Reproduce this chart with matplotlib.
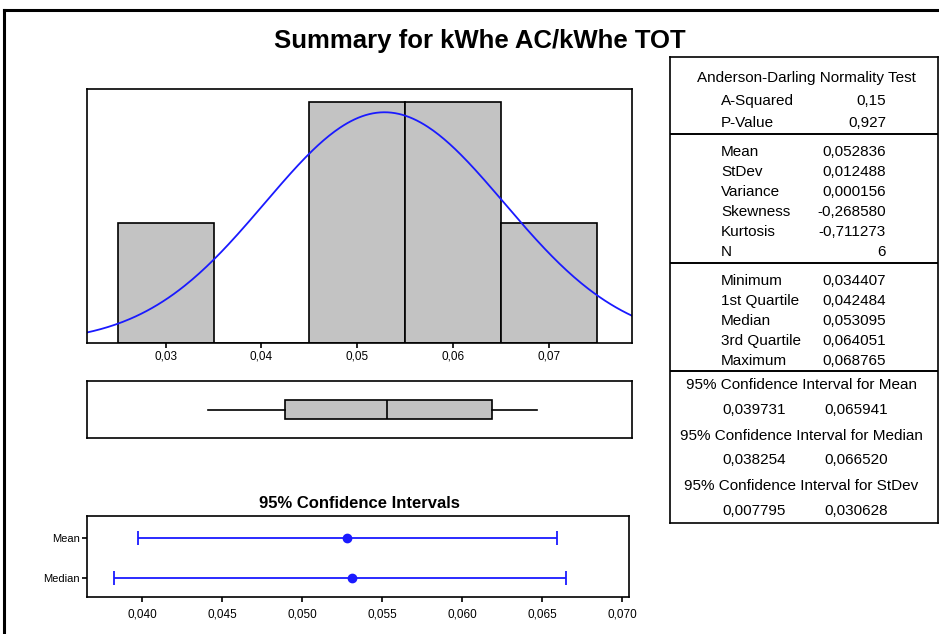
import numpy as np
import matplotlib
matplotlib.use("Agg")
from matplotlib import pyplot as plt
from matplotlib.ticker import FuncFormatter
from matplotlib.lines import Line2D

plt.rcParams['font.family'] = ['Liberation Sans', 'DejaVu Sans']

# Histogram of kWhe AC/kWhe TOT
bin_edges = [0.025, 0.035, 0.045, 0.055, 0.065, 0.075]
counts = [1, 0, 2, 2, 1]

# Descriptive statistics
mean = 0.052836
stdev = 0.012488
n = 6
minimum = 0.034407
q1 = 0.042484
median = 0.053095
q3 = 0.064051
maximum = 0.068765

# 95% confidence intervals
ci_labels = ['Mean', 'Median']
ci_centers = [mean, median]
ci_low = [0.039731, 0.038254]
ci_high = [0.065941, 0.066520]

# Summary table text
ad_rows = [('A-Squared', '0,15'), ('P-Value', '0,927')]
moment_rows = [('Mean', '0,052836'), ('StDev', '0,012488'), ('Variance', '0,000156'),
               ('Skewness', '-0,268580'), ('Kurtosis', '-0,711273'), ('N', '6')]
quantile_rows = [('Minimum', '0,034407'), ('1st Quartile', '0,042484'), ('Median', '0,053095'),
                 ('3rd Quartile', '0,064051'), ('Maximum', '0,068765')]
ci_rows = [('95% Confidence Interval for Mean', '0,039731', '0,065941'),
           ('95% Confidence Interval for Median', '0,038254', '0,066520'),
           ('95% Confidence Interval for StDev', '0,007795', '0,030628')]

W, H = 939, 634
fig = plt.figure(figsize=(W / 100, H / 100), dpi=100)


def fig_rect(x0, y0, x1, y1):
    # pixel box (top-left origin) -> figure fraction rect
    return [x0 / W, 1 - y1 / H, (x1 - x0) / W, (y1 - y0) / H]


comma = FuncFormatter(lambda v, p: ('%.2f' % v).replace('.', ','))
comma3 = FuncFormatter(lambda v, p: ('%.3f' % v).replace('.', ','))
blue = '#1a1aff'
gray = '#c3c3c3'

# outer frame (right and bottom edges are off the picture)
fig.add_artist(Line2D([4 / W, 4 / W], [0, 1 - 10 / H], color='black', lw=2.2))
fig.add_artist(Line2D([4 / W, 1], [1 - 10 / H, 1 - 10 / H], color='black', lw=2.2))

fig.text(480 / W, 1 - 41 / H, 'Summary for kWhe AC/kWhe TOT', ha='center', va='center',
         fontsize=18.5, fontweight='bold')

# histogram with fitted normal curve
ax = fig.add_axes(fig_rect(87, 89, 632, 343))
widths = np.diff(bin_edges)
ax.bar(bin_edges[:-1], counts, width=widths, align='edge', color=gray, edgecolor='black', lw=1.2)
xs = np.linspace(0.0217, 0.0787, 300)
pdf = np.exp(-0.5 * ((xs - mean) / stdev) ** 2) / (stdev * np.sqrt(2 * np.pi))
ax.plot(xs, pdf * n * widths[0], color=blue, lw=1.3)
ax.set_xlim(0.0218, 0.07865)
ax.set_ylim(0, 2.11)
ax.set_yticks([])
ax.set_xticks([0.03, 0.04, 0.05, 0.06, 0.07])
ax.xaxis.set_major_formatter(comma)
ax.tick_params(axis='x', length=3.5, width=1.2, labelsize=8.5, pad=2)
for s in ax.spines.values():
    s.set_linewidth(1.2)

# boxplot
axb = fig.add_axes(fig_rect(87, 381, 632, 438), sharex=ax)
axb.bxp([{'med': median, 'q1': q1, 'q3': q3, 'whislo': minimum, 'whishi': maximum, 'fliers': []}],
        positions=[0.5], widths=0.35, vert=False, showcaps=False, patch_artist=True,
        boxprops=dict(facecolor=gray, edgecolor='black', lw=1.2),
        medianprops=dict(color='black', lw=1.2), whiskerprops=dict(color='black', lw=1.2))
axb.set_ylim(0, 1)
axb.set_yticks([])
axb.tick_params(axis='x', length=0, labelbottom=False)
for s in axb.spines.values():
    s.set_linewidth(1.2)

# confidence intervals
axc = fig.add_axes(fig_rect(87, 516, 629, 597))
ys = [2, 1]
for y, c, lo, hi in zip(ys, ci_centers, ci_low, ci_high):
    axc.errorbar([c], [y], xerr=[[c - lo], [hi - c]], fmt='o', color=blue, ms=6,
                 capsize=5, elinewidth=1.3, capthick=1.3)
axc.set_xlim(0.03656, 0.07044)
axc.set_ylim(0.525, 2.55)
axc.set_yticks(ys)
axc.set_yticklabels(ci_labels)
axc.set_xticks([0.040, 0.045, 0.050, 0.055, 0.060, 0.065, 0.070])
axc.xaxis.set_major_formatter(comma3)
axc.tick_params(axis='y', labelsize=8, length=3.5, width=1.2, pad=1.5)
axc.tick_params(axis='x', labelsize=8.5, length=3.5, width=1.2, pad=5)
for s in axc.spines.values():
    s.set_linewidth(1.2)
fig.text(359 / W, 1 - 503 / H, '95% Confidence Intervals', ha='center', va='center',
         fontsize=12, fontweight='bold')

# summary table
axt = fig.add_axes(fig_rect(670, 57, 938, 523))
axt.set_xlim(670, 938)
axt.set_ylim(523, 57)
axt.set_xticks([])
axt.set_yticks([])
for s in axt.spines.values():
    s.set_linewidth(1.2)
for y in [134, 263, 371]:
    axt.axhline(y, color='black', lw=1.4)

fs = 11
lx, vx = 721, 886
axt.text(806, 78, 'Anderson-Darling Normality Test', ha='center', va='center', fontsize=fs)
for i, (lab, val) in enumerate(ad_rows):
    y = 101 + 22 * i
    axt.text(lx, y, lab, ha='left', va='center', fontsize=fs)
    axt.text(vx, y, val, ha='right', va='center', fontsize=fs)
for i, (lab, val) in enumerate(moment_rows):
    y = 152 + 20 * i
    axt.text(lx, y, lab, ha='left', va='center', fontsize=fs)
    axt.text(vx, y, val, ha='right', va='center', fontsize=fs)
for i, (lab, val) in enumerate(quantile_rows):
    y = 281 + 20 * i
    axt.text(lx, y, lab, ha='left', va='center', fontsize=fs)
    axt.text(vx, y, val, ha='right', va='center', fontsize=fs)
for i, (head, lo, hi) in enumerate(ci_rows):
    y = 385 + 50.5 * i
    axt.text(801, y, head, ha='center', va='center', fontsize=fs)
    axt.text(722, y + 25, lo, ha='left', va='center', fontsize=fs)
    axt.text(888, y + 25, hi, ha='right', va='center', fontsize=fs)

fig.savefig('out.png', dpi=100)
